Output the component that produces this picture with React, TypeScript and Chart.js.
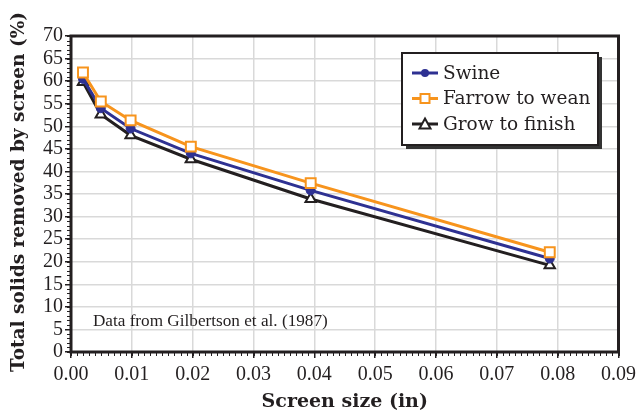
import React, { useEffect, useRef } from "react";
import { Chart, registerables } from "chart.js";
Chart.register(...registerables);

const screenSizes = [0.00197, 0.0049, 0.0098, 0.0197, 0.0394, 0.0787];
const swine = [60.5, 54.0, 49.5, 44.0, 35.8, 20.7];
const farrowToWean = [61.9, 55.5, 51.3, 45.5, 37.4, 22.1];
const growToFinish = [59.8, 52.6, 48.0, 42.7, 33.9, 19.2];
const seriesLabels = ["Swine", "Farrow to wean", "Grow to finish"];
const xTitle = "Screen size (in)";
const yTitle = "Total solids removed by screen (%)";
const note = "Data from Gilbertson et al. (1987)";

const BLUE = "#2e3192";
const ORANGE = "#f7941d";
const BLACK = "#231f20";
const SERIF = "'DejaVu Serif', serif";
const TICKFONT = "'Liberation Serif', serif";

const toPts = (ys: number[]) => ys.map((y, i) => ({ x: screenSizes[i], y }));

function drawMarker(ctx: CanvasRenderingContext2D, kind: string, x: number, y: number, color: string) {
  ctx.save();
  ctx.lineWidth = 2;
  ctx.strokeStyle = color;
  if (kind === "circle") {
    ctx.fillStyle = color;
    ctx.beginPath();
    ctx.arc(x, y, 4, 0, Math.PI * 2);
    ctx.fill();
  } else if (kind === "rect") {
    ctx.fillStyle = "#fff";
    ctx.fillRect(x - 4.5, y - 4.5, 9, 9);
    ctx.strokeRect(x - 4.5, y - 4.5, 9, 9);
  } else {
    ctx.fillStyle = "#fff";
    ctx.beginPath();
    ctx.moveTo(x, y - 5.5);
    ctx.lineTo(x + 5.5, y + 4.5);
    ctx.lineTo(x - 5.5, y + 4.5);
    ctx.closePath();
    ctx.fill();
    ctx.stroke();
  }
  ctx.restore();
}

const decorPlugin = {
  id: "decor",
  beforeDatasetsDraw(chart: any) {
    const { ctx, chartArea: a, scales } = chart;
    ctx.save();
    // minor ticks
    ctx.strokeStyle = BLACK;
    ctx.lineWidth = 1;
    const xs = scales.x;
    for (let i = 0; i <= 90; i++) {
      const px = Math.round(xs.getPixelForValue(i / 1000)) + 0.5;
      ctx.beginPath();
      ctx.moveTo(px, a.bottom);
      ctx.lineTo(px, a.bottom + 4);
      ctx.stroke();
    }
    const ys = scales.y;
    for (let i = 0; i <= 70; i++) {
      const py = Math.round(ys.getPixelForValue(i)) + 0.5;
      ctx.beginPath();
      ctx.moveTo(a.left, py);
      ctx.lineTo(a.left - 4, py);
      ctx.stroke();
    }
    // frame
    ctx.lineWidth = 3;
    ctx.strokeStyle = BLACK;
    ctx.strokeRect(a.left, a.top, a.right - a.left, a.bottom - a.top);
    // note
    ctx.fillStyle = BLACK;
    ctx.font = "17.2px " + TICKFONT;
    ctx.textBaseline = "middle";
    ctx.textAlign = "left";
    ctx.fillText(note, xs.getPixelForValue(0.0036), ys.getPixelForValue(6.8));
    // axis titles
    ctx.font = "bold 19px " + SERIF;
    ctx.textAlign = "center";
    ctx.fillText(xTitle, (a.left + a.right) / 2, 402);
    ctx.save();
    ctx.translate(19, 192);
    ctx.rotate(-Math.PI / 2);
    ctx.font = "bold 18.5px " + SERIF;
    ctx.fillText(yTitle, 0, 0);
    ctx.restore();
    ctx.restore();
  },
  afterDraw(chart: any) {
    const { ctx } = chart;
    const bx = 402, by = 53, bw = 196, bh = 92;
    ctx.save();
    ctx.fillStyle = "#333";
    ctx.fillRect(bx + 4, by + 4, bw, bh);
    ctx.fillStyle = "#fff";
    ctx.fillRect(bx, by, bw, bh);
    ctx.lineWidth = 2;
    ctx.strokeStyle = BLACK;
    ctx.strokeRect(bx, by, bw, bh);
    const colors = [BLUE, ORANGE, BLACK];
    const kinds = ["circle", "rect", "triangle"];
    ctx.font = "18.5px " + SERIF;
    ctx.textBaseline = "middle";
    ctx.textAlign = "left";
    seriesLabels.forEach((lab, i) => {
      const y = by + 20 + i * 25.5;
      ctx.strokeStyle = colors[i];
      ctx.lineWidth = 3;
      ctx.beginPath();
      ctx.moveTo(bx + 10, y);
      ctx.lineTo(bx + 36, y);
      ctx.stroke();
      drawMarker(ctx, kinds[i], bx + 23, y, colors[i]);
      ctx.fillStyle = BLACK;
      ctx.fillText(lab, bx + 41, y + 1);
    });
    ctx.restore();
  },
};

export default function App() {
  const ref = useRef<HTMLCanvasElement>(null);
  useEffect(() => {
    if (!ref.current) return;
    const chart = new Chart(ref.current, {
      type: "scatter",
      data: {
        datasets: [
          {
            label: seriesLabels[0],
            data: toPts(swine),
            showLine: true,
            borderColor: BLUE,
            backgroundColor: BLUE,
            borderWidth: 3,
            pointStyle: "circle",
            pointRadius: 4.5,
            pointBorderWidth: 1,
            order: 1,
          },
          {
            label: seriesLabels[1],
            data: toPts(farrowToWean),
            showLine: true,
            borderColor: ORANGE,
            backgroundColor: "#fff",
            borderWidth: 3,
            pointStyle: "rect",
            pointRadius: 7,
            pointBorderWidth: 2,
            order: 0,
          },
          {
            label: seriesLabels[2],
            data: toPts(growToFinish),
            showLine: true,
            borderColor: BLACK,
            backgroundColor: "#fff",
            borderWidth: 3,
            pointStyle: "triangle",
            pointRadius: 6,
            pointBorderWidth: 2,
            order: 2,
          },
        ],
      },
      options: {
        responsive: false,
        animation: false,
        layout: { padding: { left: 0, top: 36, right: 21, bottom: 0 } },
        plugins: { legend: { display: false }, tooltip: { enabled: false } },
        scales: {
          x: {
            type: "linear",
            min: 0,
            max: 0.09,
            afterFit: (s: any) => { s.height = 60; },
            ticks: {
              stepSize: 0.01,
              padding: 5,
              autoSkip: false,
              maxRotation: 0,
              color: BLACK,
              font: { family: TICKFONT, size: 20 },
              callback: (v: any) => Number(v).toFixed(2),
            },
            grid: { color: "#d9d9d9", lineWidth: 1.5, tickLength: 6, tickColor: BLACK, tickWidth: 1.5 },
            border: { display: false },
          },
          y: {
            type: "linear",
            min: 0,
            max: 70,
            afterFit: (s: any) => { s.width = 71; },
            ticks: {
              stepSize: 5,
              padding: 2,
              autoSkip: false,
              color: BLACK,
              font: { family: TICKFONT, size: 20 },
            },
            grid: { color: "#d9d9d9", lineWidth: 1.5, tickLength: 6, tickColor: BLACK, tickWidth: 1.5 },
            border: { display: false },
          },
        },
      },
      plugins: [decorPlugin],
    } as any);
    return () => chart.destroy();
  }, []);
  return (
    <div style={{ position: "fixed", left: 0, top: 0, width: 641, height: 412, background: "#fff" }}>
      <canvas ref={ref} width={641} height={412} style={{ display: "block" }} />
    </div>
  );
}
